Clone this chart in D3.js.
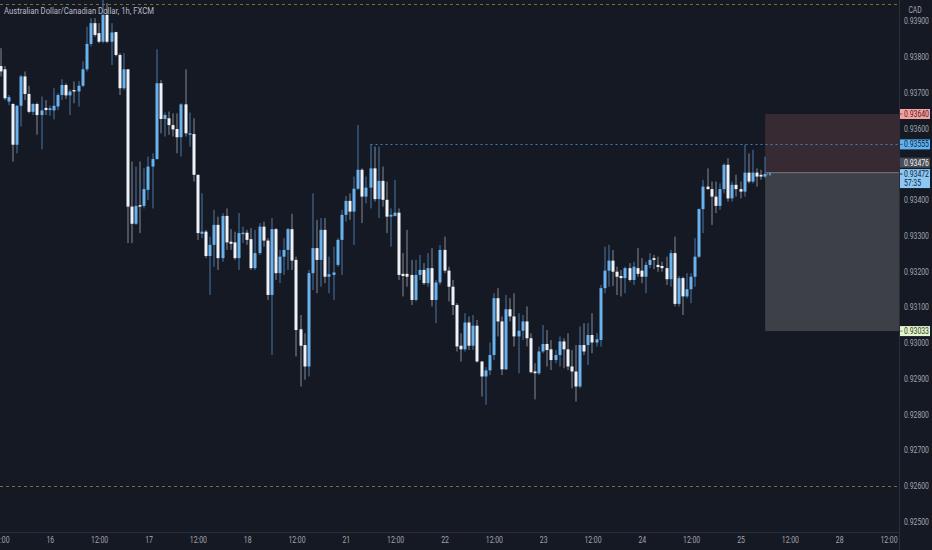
<!DOCTYPE html>
<html><head><meta charset="utf-8">
<script src="https://cdn.jsdelivr.net/npm/d3@7"></script>
<style>
html,body{margin:0;padding:0;background:#151924;}
svg{display:block;}
text{font-family:"Roboto","DejaVu Sans",sans-serif;}
</style></head>
<body>
<svg id="c" width="932" height="550"></svg>
<script>
// ---- DATA (AUD/CAD, 1h bars, FXCM) ----
const opens = [0.93774,0.93765,0.93675,0.93668,0.93554,0.93663,0.93745,0.93696,0.93646,0.93668,
0.93637,0.93657,0.93651,0.93650,0.93661,0.93693,0.93721,0.93692,0.93707,0.93703,
0.93719,0.93765,0.93836,0.93894,0.93866,0.93842,0.93917,0.93842,0.93869,0.93805,
0.93712,0.93765,0.93381,0.93333,0.93385,0.93383,0.93428,0.93493,0.93514,0.93726,
0.93626,0.93628,0.93609,0.93598,0.93575,0.93667,0.93582,0.93584,0.93470,0.93305,
0.93311,0.93243,0.93274,0.93330,0.93237,0.93355,0.93283,0.93281,0.93237,0.93304,
0.93308,0.93290,0.93209,0.93251,0.93325,0.93286,0.93134,0.93318,0.93195,0.93241,
0.93260,0.93318,0.93232,0.93038,0.92994,0.92934,0.93195,0.93265,0.93232,0.93316,
0.93185,0.93190,0.93218,0.93288,0.93358,0.93397,0.93367,0.93431,0.93484,0.93409,
0.93434,0.93488,0.93402,0.93453,0.93400,0.93353,0.93355,0.93364,0.93193,0.93193,
0.93190,0.93120,0.93190,0.93204,0.93167,0.93209,0.93120,0.93169,0.93260,0.93202,
0.93157,0.93106,0.92992,0.92982,0.93057,0.92992,0.93048,0.92948,0.92906,0.92923,
0.92966,0.93125,0.93060,0.92926,0.93094,0.93074,0.93018,0.93034,0.93060,0.93013,
0.92920,0.92915,0.92976,0.92997,0.92982,0.92952,0.92966,0.93004,0.92982,0.92934,
0.92920,0.92878,0.92994,0.92994,0.93022,0.93001,0.93008,0.93153,0.93202,0.93230,
0.93199,0.93187,0.93181,0.93209,0.93176,0.93209,0.93202,0.93185,0.93218,0.93237,
0.93218,0.93215,0.93209,0.93178,0.93251,0.93109,0.93181,0.93130,0.93150,0.93185,
0.93241,0.93374,0.93437,0.93430,0.93409,0.93383,0.93430,0.93498,0.93404,0.93442,
0.93430,0.93423,0.93476,0.93451,0.93476,0.93470,0.93465];
const highs = [0.93824,0.93774,0.93693,0.93670,0.93665,0.93749,0.93759,0.93719,0.93670,0.93672,
0.93689,0.93679,0.93663,0.93712,0.93698,0.93737,0.93726,0.93709,0.93731,0.93732,
0.93787,0.93884,0.93908,0.93908,0.93894,0.93959,0.93950,0.93894,0.93870,0.93810,
0.93810,0.93765,0.93507,0.93493,0.93507,0.93488,0.93521,0.93530,0.93821,0.93735,
0.93644,0.93647,0.93642,0.93642,0.93670,0.93765,0.93644,0.93628,0.93470,0.93418,
0.93316,0.93297,0.93372,0.93353,0.93363,0.93376,0.93318,0.93311,0.93363,0.93325,
0.93316,0.93321,0.93316,0.93335,0.93339,0.93293,0.93349,0.93321,0.93260,0.93293,
0.93321,0.93361,0.93241,0.93078,0.93027,0.93204,0.93418,0.93344,0.93349,0.93349,
0.93241,0.93269,0.93293,0.93372,0.93411,0.93418,0.93465,0.93609,0.93488,0.93465,
0.93555,0.93549,0.93549,0.93493,0.93451,0.93376,0.93456,0.93376,0.93251,0.93316,
0.93232,0.93232,0.93246,0.93223,0.93251,0.93265,0.93176,0.93274,0.93297,0.93213,
0.93176,0.93111,0.93027,0.93083,0.93074,0.93078,0.93064,0.92948,0.92932,0.93001,
0.93139,0.93153,0.93074,0.93134,0.93125,0.93139,0.93083,0.93078,0.93102,0.93027,
0.92943,0.92990,0.93050,0.93036,0.93008,0.92980,0.93018,0.93013,0.93027,0.92980,
0.92994,0.93046,0.93055,0.93055,0.93083,0.93027,0.93162,0.93269,0.93274,0.93260,
0.93213,0.93204,0.93213,0.93223,0.93227,0.93265,0.93237,0.93227,0.93251,0.93246,
0.93241,0.93227,0.93241,0.93260,0.93297,0.93187,0.93185,0.93195,0.93195,0.93293,
0.93376,0.93456,0.93488,0.93451,0.93451,0.93446,0.93502,0.93516,0.93451,0.93470,
0.93451,0.93554,0.93530,0.93540,0.93488,0.93484,0.93521];
const lows = [0.93745,0.93679,0.93665,0.93507,0.93530,0.93605,0.93679,0.93642,0.93637,0.93582,
0.93541,0.93637,0.93635,0.93625,0.93651,0.93679,0.93682,0.93637,0.93670,0.93661,
0.93715,0.93759,0.93829,0.93856,0.93838,0.93838,0.93838,0.93777,0.93801,0.93693,
0.93707,0.93279,0.93279,0.93330,0.93307,0.93376,0.93400,0.93376,0.93512,0.93586,
0.93577,0.93582,0.93577,0.93530,0.93521,0.93577,0.93549,0.93451,0.93288,0.93293,
0.93237,0.93134,0.93213,0.93204,0.93227,0.93260,0.93260,0.93232,0.93204,0.93279,
0.93274,0.93204,0.93204,0.93246,0.93269,0.93120,0.92966,0.93176,0.93167,0.93190,
0.93204,0.93204,0.92962,0.92878,0.92897,0.92906,0.93148,0.93139,0.93157,0.93167,
0.93139,0.93120,0.93213,0.93190,0.93339,0.93344,0.93274,0.93428,0.93335,0.93390,
0.93376,0.93395,0.93349,0.93381,0.93307,0.93269,0.93353,0.93176,0.93130,0.93157,
0.93106,0.93116,0.93176,0.93162,0.93157,0.93102,0.93055,0.93162,0.93195,0.93116,
0.93078,0.92976,0.92948,0.92976,0.92980,0.92980,0.92945,0.92850,0.92827,0.92910,
0.92952,0.93018,0.92910,0.92924,0.93060,0.92990,0.92915,0.93008,0.92990,0.92915,
0.92842,0.92910,0.92971,0.92934,0.92924,0.92943,0.92934,0.92929,0.92924,0.92873,
0.92836,0.92873,0.92966,0.92938,0.92971,0.92990,0.92990,0.93139,0.93157,0.93159,
0.93134,0.93130,0.93139,0.93171,0.93162,0.93185,0.93167,0.93139,0.93209,0.93206,
0.93199,0.93199,0.93162,0.93157,0.93102,0.93102,0.93078,0.93125,0.93111,0.93157,
0.93237,0.93307,0.93428,0.93330,0.93363,0.93372,0.93418,0.93395,0.93395,0.93409,
0.93404,0.93409,0.93446,0.93446,0.93437,0.93456,0.93460];
const closes = [0.93759,0.93684,0.93687,0.93554,0.93663,0.93745,0.93696,0.93646,0.93668,0.93637,
0.93650,0.93651,0.93656,0.93663,0.93693,0.93721,0.93692,0.93703,0.93703,0.93719,
0.93765,0.93836,0.93894,0.93861,0.93842,0.93917,0.93842,0.93868,0.93805,0.93712,
0.93765,0.93381,0.93333,0.93383,0.93381,0.93430,0.93493,0.93514,0.93726,0.93626,
0.93637,0.93609,0.93597,0.93575,0.93667,0.93586,0.93586,0.93470,0.93307,0.93311,
0.93243,0.93274,0.93330,0.93237,0.93355,0.93281,0.93277,0.93237,0.93307,0.93308,
0.93288,0.93209,0.93251,0.93325,0.93286,0.93134,0.93318,0.93195,0.93241,0.93260,
0.93318,0.93230,0.93036,0.92992,0.92934,0.93195,0.93265,0.93232,0.93316,0.93185,
0.93192,0.93197,0.93288,0.93358,0.93397,0.93367,0.93431,0.93484,0.93409,0.93434,
0.93488,0.93402,0.93453,0.93400,0.93353,0.93358,0.93364,0.93190,0.93187,0.93185,
0.93120,0.93190,0.93204,0.93167,0.93209,0.93120,0.93169,0.93260,0.93202,0.93157,
0.93106,0.92990,0.92982,0.93057,0.92992,0.93048,0.92948,0.92906,0.92923,0.92966,
0.93125,0.93060,0.92926,0.93094,0.93074,0.93018,0.93034,0.93060,0.93013,0.92918,
0.92915,0.92976,0.92997,0.92980,0.92952,0.92966,0.93004,0.92982,0.92934,0.92920,
0.92878,0.92994,0.92976,0.93022,0.93001,0.93010,0.93153,0.93202,0.93230,0.93199,
0.93185,0.93181,0.93209,0.93176,0.93213,0.93193,0.93185,0.93218,0.93232,0.93232,
0.93212,0.93209,0.93178,0.93251,0.93109,0.93181,0.93130,0.93150,0.93185,0.93241,
0.93374,0.93437,0.93430,0.93409,0.93383,0.93430,0.93498,0.93404,0.93442,0.93430,
0.93423,0.93476,0.93451,0.93476,0.93465,0.93465,0.93472];

// time axis labels (bar index -> label), 1h bars
const timeTickIndex = [0,12,24,36,48,60,72,84,96,108,120,132,144,156,168,180,192,204,216];
const timeTickLabel = ["12:00","16","12:00","17","12:00","18","12:00","21","12:00","22","12:00","23","12:00","24","12:00","25","12:00","28","12:00"];
const priceTicks = [0.925,0.926,0.927,0.928,0.929,0.930,0.931,0.932,0.933,0.934,0.935,0.936,0.937,0.938,0.939];

// drawings
const levelLines = [0.93948, 0.92600];          // horizontal dashed levels
const swingHigh = {price:0.93555, fromIndex:90}; // dotted line from swing high
const position = {startIndex:186, endIndex:218, stop:0.93640, entry:0.93476, target:0.93033};
const lastPrice = 0.93472, countdown = "57:35";
const title = "Australian Dollar/Canadian Dollar, 1h, FXCM";
const currency = "CAD";

// ---- DRAW ----
const W=932,H=550, axisX=899, axisY=532;
const SX=0.8;          // horizontal condensing of axis texts
const FS=8.6;
const svg=d3.select("#c");
svg.append("rect").attr("width",W).attr("height",H).attr("fill","#151924");

const x=d3.scaleLinear().domain([0,216]).range([0.5,888.5]);
const y=d3.scaleLinear().domain([0.925,0.939]).range([521.7,21]);

svg.append("defs").append("clipPath").attr("id","pc").append("rect")
  .attr("x",0).attr("y",0).attr("width",axisX).attr("height",axisY);
const plot=svg.append("g").attr("clip-path","url(#pc)");

// level dashed lines
plot.selectAll(".lvl").data(levelLines).enter().append("line")
  .attr("x1",0).attr("x2",axisX).attr("y1",d=>Math.round(y(d))+0.5).attr("y2",d=>Math.round(y(d))+0.5)
  .attr("stroke","#77702f").attr("stroke-width",1).attr("stroke-dasharray","3,3");

// position box
const bx0=x(position.startIndex), bx1=x(position.endIndex)+8.5;
plot.append("rect").attr("x",bx0).attr("width",bx1-bx0)
  .attr("y",y(position.stop)).attr("height",y(position.entry)-y(position.stop))
  .attr("fill","#382a33");
plot.append("rect").attr("x",bx0).attr("width",bx1-bx0)
  .attr("y",y(position.entry)).attr("height",y(position.target)-y(position.entry))
  .attr("fill","#3d4147");
plot.append("line").attr("x1",bx0).attr("x2",bx1)
  .attr("y1",y(position.entry)).attr("y2",y(position.entry))
  .attr("stroke","#676a72").attr("stroke-width",1.2);

// swing high dotted line
plot.append("line").attr("x1",x(swingHigh.fromIndex)).attr("x2",axisX)
  .attr("y1",Math.round(y(swingHigh.price))+0.5).attr("y2",Math.round(y(swingHigh.price))+0.5)
  .attr("stroke","#3f7fb8").attr("stroke-width",1).attr("stroke-dasharray","2,3");

// candles
const bars=d3.range(opens.length).map(i=>({i,o:opens[i],h:highs[i],l:lows[i],c:closes[i]}));
const upBody="#6ab2ee", dnBody="#eef1f6", upWick="#4b79a6", dnWick="#868a93";
const g=plot.append("g");
g.selectAll(".wick").data(bars).enter().append("rect")
  .attr("x",d=>Math.round(x(d.i))-0.5).attr("width",1)
  .attr("y",d=>y(d.h)).attr("height",d=>Math.max(1,y(d.l)-y(d.h)))
  .attr("fill",d=>d.c>=d.o?upWick:dnWick);
g.selectAll(".body").data(bars).enter().append("rect")
  .attr("x",d=>Math.round(x(d.i))-1.5).attr("width",3)
  .attr("y",d=>y(Math.max(d.o,d.c))).attr("height",d=>Math.max(1.2,Math.abs(y(d.o)-y(d.c))))
  .attr("fill",d=>d.c>=d.o?upBody:dnBody);

// small last-price marker
const lx=x(opens.length-1);
plot.append("line").attr("x1",lx+2).attr("x2",lx+6).attr("y1",y(lastPrice)).attr("y2",y(lastPrice))
  .attr("stroke","#6ab2ee").attr("stroke-dasharray","1,1");
plot.append("line").attr("x1",lx+5).attr("x2",lx+5).attr("y1",y(lastPrice)-1.5).attr("y2",y(lastPrice)+1.5)
  .attr("stroke","#6ab2ee");

// title
svg.append("text").attr("transform","translate(4,14) scale(0.86,1)").attr("font-size",9).attr("fill","#b8bbc4").text(title);

// axes separators
svg.append("line").attr("x1",axisX+0.5).attr("x2",axisX+0.5).attr("y1",0).attr("y2",H).attr("stroke","#2a2e39");
svg.append("line").attr("x1",0).attr("x2",axisX).attr("y1",axisY+0.5).attr("y2",axisY+0.5).attr("stroke","#2a2e39");

// price axis (texts condensed horizontally)
const yAxis=d3.axisRight(y).tickValues(priceTicks).tickFormat(d3.format(".5f")).tickSize(0).tickPadding(0);
const ya=svg.append("g").attr("transform",`translate(${axisX+5},0) scale(${SX},1)`).call(yAxis);
ya.select(".domain").remove();
ya.selectAll("text").attr("font-size",FS).attr("fill","#a3a6ae").attr("font-family",null);

// time axis (each label condensed about its own centre)
const xAxis=d3.axisBottom(x).tickValues(timeTickIndex).tickFormat((d,i)=>timeTickLabel[i]).tickSize(0).tickPadding(0);
const xa=svg.append("g").attr("transform",`translate(0,${axisY+5})`).call(xAxis);
xa.select(".domain").remove();
xa.selectAll("text").attr("font-size",FS).attr("fill","#a3a6ae").attr("font-family",null).attr("dy","0.71em")
  .attr("transform",`scale(${SX},1)`);

// currency label
svg.append("text").attr("transform",`translate(915,13) scale(${SX},1)`).attr("text-anchor","middle").attr("font-size",8.4)
  .attr("fill","#a3a6ae").text(currency);

// price labels on axis
const fmt=d3.format(".5f");
const tags=[
  {v:position.stop, cy:y(position.stop), bg:"#f4a3a3", fg:"#5a1a1a"},
  {v:swingHigh.price, cy:y(swingHigh.price), bg:"#5fb3f2", fg:"#0c2238"},
  {v:position.entry, cy:y(position.entry)-10, bg:"#4a4e57", fg:"#f0f0f0"},
  {v:position.target, cy:y(position.target), bg:"#e2f5cf", fg:"#2b3a20"}
];
const tg=svg.append("g");
tags.forEach(t=>{
  tg.append("rect").attr("x",axisX+1).attr("y",t.cy-5).attr("width",30).attr("height",10).attr("fill",t.bg);
  tg.append("line").attr("x1",axisX+1).attr("x2",axisX+3.5).attr("y1",y(t.v)).attr("y2",y(t.v)).attr("stroke",t.fg).attr("stroke-opacity",0.6);
  tg.append("text").attr("transform",`translate(${axisX+5},${t.cy}) scale(${SX},1)`).attr("dy","0.35em")
    .attr("font-size",FS).attr("fill",t.fg).text(fmt(t.v));
});
// last price with countdown
const ly=y(lastPrice);
tg.append("rect").attr("x",axisX+1).attr("y",ly-5).attr("width",30).attr("height",19).attr("fill","#8cc8f4");
tg.append("line").attr("x1",axisX+1).attr("x2",axisX+3.5).attr("y1",ly).attr("y2",ly).attr("stroke","#1a3550");
tg.append("text").attr("transform",`translate(${axisX+5},${ly}) scale(${SX},1)`).attr("dy","0.35em")
  .attr("font-size",FS).attr("fill","#10243a").text(fmt(lastPrice));
tg.append("text").attr("transform",`translate(${axisX+5},${ly+9}) scale(${SX},1)`).attr("dy","0.35em")
  .attr("font-size",FS).attr("fill","#10243a").text(countdown);
</script>
</body></html>
